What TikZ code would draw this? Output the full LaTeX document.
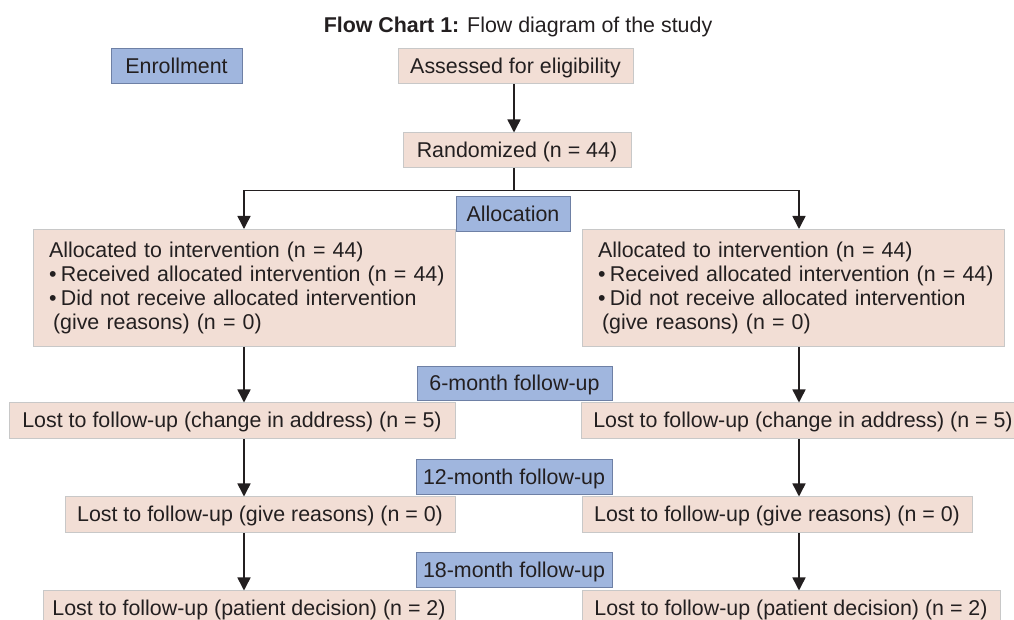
\documentclass[tikz,border=0pt]{standalone}
\usepackage{fontspec}
\setmainfont{Liberation Sans}
\usetikzlibrary{arrows.meta,calc}
\newdimen\pxu
\pxu=0.5pt
\definecolor{pinkfill}{RGB}{242,222,213}
\definecolor{pinkline}{RGB}{200,200,200}
\definecolor{bluefill}{RGB}{160,182,222}
\definecolor{blueline}{RGB}{110,128,165}
\definecolor{ink}{RGB}{35,31,32}
\newcommand{\bul}{\textbullet\kern2.2pt}
\begin{document}
\begin{tikzpicture}[x=0.5pt,y=-0.5pt,
  font=\fontsize{10.7}{12}\selectfont, text=ink,
  oneline/.style={text height=9pt,text depth=2pt},
  pbox/.style={draw=pinkline,fill=pinkfill,line width=0.5pt,inner sep=0pt,align=center,oneline},
  bbox/.style={draw=blueline,fill=bluefill,line width=0.5pt,inner sep=0pt,align=center,oneline},
  bigbox/.style={draw=pinkline,fill=pinkfill,line width=0.5pt,inner sep=0pt,
    minimum width=422\pxu,minimum height=117\pxu,text width=390\pxu,align=left},
  arr/.style={draw=ink,line width=0.75pt,-{Triangle[length=6.5pt,width=6.5pt]}},
  ln/.style={draw=ink,line width=0.75pt}]
\useasboundingbox (0,0) rectangle (1014,620);
% title
\node[oneline,inner sep=0pt] (title) at (518,26) {\textbf{Flow Chart 1:} Flow diagram of the study};
% column coordinates
\coordinate (colL) at (244,0);
\coordinate (colR) at (799,0);
\coordinate (colM) at (514,0);
% boxes
\node[bbox,minimum width=131\pxu,minimum height=35\pxu] (enroll) at (176.5,66.5) {Enrollment};
\node[pbox,minimum width=235\pxu,minimum height=35\pxu] (assess) at (515.5,66.5) {Assessed for eligibility};
\node[pbox,minimum width=228\pxu,minimum height=35\pxu] (rand) at (517,150.5) {Randomized (n = 44)};
\node[bbox,minimum width=114\pxu,minimum height=35\pxu] (alloc) at (513,214.5) {Allocation};
\node[bigbox] (leftbig) at (244,288)
 {\mbox{Allocated to intervention (n = 44)}\\
  \mbox{\bul Received allocated intervention (n = 44)}\\
  \mbox{\bul Did not receive allocated intervention}\\
  \mbox{\hspace{2pt}(give reasons) (n = 0)}};
\node[bigbox] (rightbig) at (793,288)
 {\mbox{Allocated to intervention (n = 44)}\\
  \mbox{\bul Received allocated intervention (n = 44)}\\
  \mbox{\bul Did not receive allocated intervention}\\
  \mbox{\hspace{2pt}(give reasons) (n = 0)}};
\node[bbox,minimum width=195\pxu,minimum height=34\pxu] (six) at (514.5,384) {6-month follow-up};
\node[pbox,minimum width=446\pxu,minimum height=36\pxu] (L1) at (232,421) {Lost to follow-up (change in address) (n = 5)};
\node[pbox,minimum width=444\pxu,minimum height=36\pxu] (R1) at (803,421) {Lost to follow-up (change in address) (n = 5)};
\node[bbox,minimum width=196\pxu,minimum height=35\pxu] (twelve) at (514,477.5) {12-month follow-up};
\node[pbox,minimum width=390\pxu,minimum height=36\pxu] (L2) at (260,515) {Lost to follow-up (give reasons) (n = 0)};
\node[pbox,minimum width=390\pxu,minimum height=36\pxu] (R2) at (777,515) {Lost to follow-up (give reasons) (n = 0)};
\node[bbox,minimum width=196\pxu,minimum height=35\pxu] (eighteen) at (514,570.5) {18-month follow-up};
\node[pbox,minimum width=412\pxu,minimum height=36\pxu] (L3) at (249,609) {Lost to follow-up (patient decision) (n = 2)};
\node[pbox,minimum width=418\pxu,minimum height=36\pxu] (R3) at (791,609) {Lost to follow-up (patient decision) (n = 2)};
% connectors
\draw[arr] (assess.south -| colM) -- (rand.north -| colM);
\coordinate (split) at ($(rand.south -| colM)+(0,22)$);
\draw[ln] (rand.south -| colM) -- (split);
\draw[arr] (split) -| (leftbig.north -| colL);
\draw[arr] (split) -| (rightbig.north -| colR);
\draw[arr] (leftbig.south -| colL) -- (L1.north -| colL);
\draw[arr] (rightbig.south -| colR) -- (R1.north -| colR);
\draw[arr] (L1.south -| colL) -- (L2.north -| colL);
\draw[arr] (R1.south -| colR) -- (R2.north -| colR);
\draw[arr] (L2.south -| colL) -- (L3.north -| colL);
\draw[arr] (R2.south -| colR) -- (R3.north -| colR);
\end{tikzpicture}
\end{document}
